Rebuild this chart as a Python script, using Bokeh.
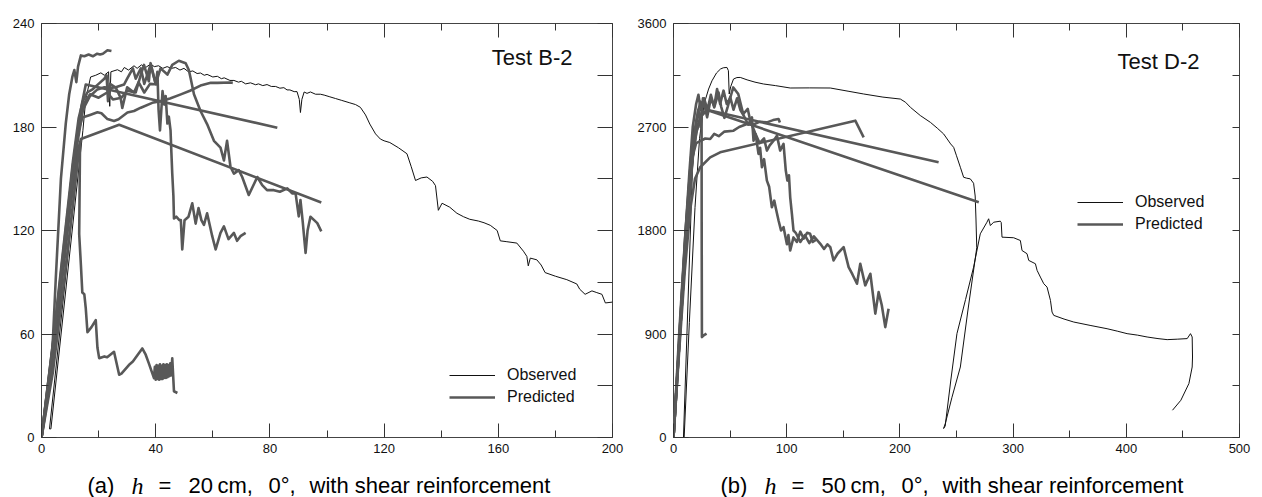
from bokeh.plotting import figure
from bokeh.models import Range1d, LinearAxis, FixedTicker, Label, Legend, LegendItem
from bokeh.layouts import row, column
from bokeh.embed import file_html
from bokeh.resources import INLINE

# ---------------- Panel (a): Test B-2 ----------------
A_X_TICKS = [0, 40, 80, 120, 160, 200]
A_X_MINOR = [20, 60, 100, 140, 180]
A_Y_TICKS = [0, 60, 120, 180, 240]
A_Y_MINOR = [30, 90, 150, 210]
A_Y_RIGHT = [0, 30, 60, 90, 120, 150, 180, 210, 240]

A_OBS_X = [0, 4, 8, 11, 13.5, 2.8, 3.3, 14.5, 15.5, 17.2, 19, 20.8, 22, 23.5, 23.9, 24.3, 26.6, 28, 29, 30.5,
           32.4, 33.5, 35, 36.5, 38.2, 39.5, 41, 42.5, 44, 45.5, 47, 48.5, 49.9, 51.5, 53, 54.5, 55.7, 57, 58,
           60, 61.6, 63, 64, 66, 67.4, 69, 70, 71.5, 73.2, 75, 76, 77.5, 79, 80.5, 82, 83.5, 84.9, 86, 87, 88.5,
           89.5, 90.3, 90.7, 91.2, 92, 93, 94.2, 96, 97.7, 99, 101, 103, 105, 108, 110, 111.7, 113.5, 115, 117,
           118.7, 120, 122, 125, 128, 129.5, 131, 133, 135, 137, 138, 139, 140.3, 143, 145.5, 147.8, 150, 153,
           155, 157.2, 159.6, 160.7, 163, 166.5, 168.8, 170, 170.5, 171.2, 173.5, 175, 176.4, 180, 184, 187.5,
           188.5, 190.4, 192.8, 194.5, 196.3, 197.5, 200]
A_OBS_Y = [0, 50, 105, 145, 172, 5, 5, 178, 196, 209, 210, 211.4, 210, 212, 192, 212, 213.2, 212, 214.5, 213,
           215.5, 214, 216, 214.5, 216.5, 215, 215.5, 214, 215, 214, 214.5, 213, 214, 212, 212.5, 211, 211.3, 210,
           210.5, 209, 209.4, 208, 208.5, 207, 207, 206, 206.5, 205, 205.6, 204.5, 205, 204, 204.6, 203.5, 203.5,
           202.5, 202.8, 201.5, 201.5, 200.5, 200.5, 196, 188.4, 196, 200.3, 199.5, 200.3, 199, 199, 198.5, 197.5,
           196.5, 195.5, 194, 193, 191.4, 187, 181.7, 176, 173, 172, 171, 168, 164.5, 157, 149, 150.5, 151, 148.5,
           146, 131.7, 135.8, 133.5, 130, 128, 126.5, 125.5, 124.5, 123, 120, 114, 113.5, 112.7, 108, 105, 99.5,
           104, 103, 100, 95.6, 93.5, 91.5, 89, 86, 83, 85, 84, 83, 78, 78.5]

A_P1_X = [0, 2, 3.8, 5, 6.8, 8.5, 9.7, 10.8, 11.5, 12.2, 12.8, 13.8, 15, 16.5, 18, 19.5, 20.5, 21.5, 23.1, 24.5]
A_P1_Y = [0, 25, 50, 92, 150, 182, 199, 209, 213, 206, 215, 221.5, 221, 222, 221, 222.5, 222, 222.5, 224.5, 224]

A_P2_X = [0, 4, 7, 10, 12.5, 13.5, 13.2, 13.8, 14.3, 15, 15.5, 16.1, 17.5, 19, 19.6, 20.2, 22, 23, 25.4, 27.2,
          28, 30.6, 32, 35.3, 36.5, 37.6, 39.4, 39.7, 40, 40.3, 40.6, 40.9, 41.2, 41.5, 41.8, 42.1, 42.4, 42.7,
          43, 43.3, 43.6, 43.9, 44.2, 44.5, 44.8, 45.1, 45.4, 45.8, 46.4, 47.6]
A_P2_Y = [0, 42, 88, 132, 165, 171, 118, 100, 84, 83, 75, 61, 64, 68, 52, 46, 47, 46.5, 49.7, 36.4,
          37, 42, 44, 51.6, 48, 43, 34.4, 41, 33.5, 42, 34, 41.5, 33.5, 42.5, 34, 41.5, 34, 42.5, 34.5, 42,
          34.5, 42.5, 35, 42, 35.5, 43, 36, 45.9, 26.8, 25.8]

A_P3_X = [0, 4, 8, 11, 13, 13.8, 27.2, 98]
A_P3_Y = [0, 38, 92, 135, 165, 173, 181.3, 136.2]

A_P4_X = [0, 5, 9, 12, 14, 15.5, 82.6]
A_P4_Y = [0, 68, 128, 170, 192, 204.6, 179.6]

A_P5_X = [0, 4, 8, 11, 13, 14.3, 17, 19.6, 21, 23.1, 25.4, 27, 30.1, 32.4, 34.8, 38.8, 41.7, 45, 48.8, 52,
          55.7, 59.3, 61.6, 66.2, 67]
A_P5_Y = [0, 45, 108, 158, 178, 185.5, 187, 188.5, 188, 184.6, 183.5, 184.5, 188.4, 189.3, 191.2, 194, 195,
          196.5, 198.9, 201, 204, 205.6, 205.6, 205.8, 205.6]

A_P6_X = [0, 5, 9, 12, 14.5, 17, 19.6, 22, 24.2, 26, 28.9, 30, 32, 33, 34.8, 36, 38.2, 40, 40.6, 41, 41.5,
          42.4, 43, 43.5, 44.1, 44.6, 45.2, 45.5, 45.8, 46.2, 46.4, 47.2, 48.3, 48.8, 49.3, 50.1, 51.5, 52.8,
          54, 55, 56, 56.9, 58, 59.8, 61, 62.7, 63.9, 65.5, 67.4, 68.5, 69.7, 71.5]
A_P6_Y = [0, 65, 125, 165, 190, 198, 201.8, 203, 202.7, 203, 204.6, 208, 214, 208, 214, 205, 216, 205, 212,
          190, 178, 200.8, 193, 198, 182, 186, 178, 165, 153, 140, 127, 128, 126, 126, 109, 126, 128, 135.8,
          124, 133, 126, 123.3, 130, 116.7, 109, 118.6, 122.4, 115, 118.6, 114, 116.7, 118.6]

A_P7_X = [0, 6, 10, 13, 15, 17, 20, 23, 25, 28, 30, 33, 34.8, 35.9, 37.6, 38.2, 40, 41.7, 44.1, 45.8, 48.1,
          50.5, 51.6, 52.2, 53.4, 55.7, 58, 60.4, 62.7, 63.9, 65, 66.2, 67.4, 69.1, 70.3, 72.6, 75.6, 77.3, 79,
          81.4, 83.5, 86.1, 87.8, 89, 90.1, 90.7, 91.5, 92.5, 93.2, 94.2, 95.5, 96.6, 98]
A_P7_Y = [0, 80, 140, 180, 194, 199, 197, 200, 196, 197, 201, 200, 210.4, 216, 206.5, 217, 205, 214, 210.4,
          216, 218.4, 217, 213, 208.5, 199, 189.3, 181.7, 172, 168, 160.6, 172, 156.8, 153, 155, 151, 140.6,
          151, 146.3, 143.4, 143.4, 142.5, 144.4, 141.5, 141.5, 128.2, 137.7, 125, 107, 120, 128, 126, 124.3,
          119.5]

A_P8_X = [0, 4, 8, 11, 13, 14.5, 16, 18, 20, 22, 22.8, 23.3, 24, 26, 27.7, 28.3, 30, 32.4, 34, 36, 38, 41]
A_P8_Y = [0, 55, 115, 160, 185, 195, 200, 202, 205, 208, 210, 195, 205, 202.8, 197, 191, 203, 200, 206, 200,
          205, 204.6]

# ---------------- Panel (b): Test D-2 ----------------
B_X_TICKS = [0, 100, 200, 300, 400, 500]
B_X_MINOR = [50, 150, 250, 350, 450]
B_Y_TICKS = [0, 900, 1800, 2700, 3600]
B_Y_MINOR = [450, 1350, 2250, 3150]
B_Y_RIGHT = [0, 450, 900, 1350, 1800, 2250, 2700, 3150, 3600]

B_OBS_X = [0, 5, 10, 15, 18, 8.8, 9.4, 14, 19, 23, 27, 31, 34, 38, 41.5, 44, 47.2, 48.5, 49.2, 50.5, 53, 56,
           59, 65, 72, 79.5, 90, 103.1, 120, 138.5, 155, 168, 185, 200.4, 205, 209.3, 218, 227, 233, 238.6,
           244.8, 247.5, 250, 253.4, 256.3, 259, 262.2, 265.1, 266.5, 267.2, 267.9, 260, 253.4, 246, 240.1,
           238.6, 240, 245, 250.4, 258, 265.1, 271, 276.9, 278.4, 279.9, 282.8, 288.7, 289.5, 290.2, 300.5,
           306.4, 307.9, 312.3, 313.8, 319.7, 321.2, 324.1, 327.1, 330, 333, 334.4, 335.9, 345, 353.6, 368,
           383, 392, 400.7, 410, 418.4, 428, 436.1, 445, 453.8, 456.7, 458.2, 458.5, 458.2, 455.3, 448.2, 440.8]
B_OBS_Y = [0, 950, 1800, 2450, 2700, 0, 0, 1000, 2000, 2600, 2900, 3030, 3102, 3170, 3204, 3215, 3218, 3190,
           2987, 3050, 3117, 3130, 3131, 3110, 3090, 3074, 3060, 3039, 3040, 3039, 3010, 2987, 2960, 2943, 2915,
           2871, 2800, 2740, 2690, 2640, 2553, 2523, 2450, 2350, 2263, 2255, 2249, 2211, 2100, 1900, 1650, 1100,
           613, 350, 121, 78, 100, 500, 903, 1200, 1481, 1771, 1872, 1902, 1843, 1872, 1881, 1870, 1742, 1737,
           1713, 1626, 1598, 1540, 1511, 1453, 1395, 1337, 1308, 1192, 1091, 1062, 1030, 1004, 975, 946, 925,
           903, 890, 874, 860, 851, 855, 860, 903, 874, 700, 613, 469, 324, 237]

B_P1_X = [0, 5, 10, 15, 19, 22, 24, 24.8, 24.9, 25.1, 27, 29.2]
B_P1_Y = [0, 800, 1550, 2200, 2650, 2850, 2920, 2871, 1800, 873, 890, 903]

B_P2_X = [0, 6, 12, 17, 21, 25, 31.3, 234.2]
B_P2_Y = [0, 950, 1850, 2450, 2700, 2820, 2845, 2393]

B_P3_X = [0, 5, 10, 15, 20, 25, 29, 32.3, 269.7]
B_P3_Y = [0, 850, 1650, 2300, 2650, 2800, 2840, 2840, 2046]

B_P4_X = [0, 5, 10, 15, 19, 23.6, 32.4, 41.2, 160.6, 168]
B_P4_Y = [0, 750, 1450, 2000, 2250, 2350, 2436, 2480, 2755, 2610]

B_P5_X = [0, 5, 10, 14, 17, 20, 24, 28, 32.4, 36, 40, 45, 53, 58, 64.9, 70, 76, 82.5, 88, 92.8, 94]
B_P5_Y = [0, 800, 1550, 2150, 2450, 2560, 2580, 2600, 2596, 2640, 2620, 2660, 2668, 2700, 2726, 2720, 2745,
          2740, 2760, 2770, 2740]

B_P6_X = [0, 5, 10, 14, 17, 20, 22, 24, 27, 30, 33, 36, 39.8, 42, 45, 48, 50.1, 53, 56.2, 59, 62, 66, 69.3,
          70.7, 72.5, 75.1, 76.5, 78.1, 80, 82.5, 84.5, 86.9, 89, 90.5, 92.8, 95, 97.2, 100.2, 101.5, 103.1,
          106, 109, 112, 115, 118, 120.7, 123, 126]
B_P6_Y = [0, 900, 1700, 2300, 2700, 2900, 2980, 2850, 2950, 2850, 2980, 2870, 3000, 2880, 2780, 2880, 2960,
          2850, 2950, 2850, 2800, 2720, 2784, 2581, 2640, 2466, 2520, 2350, 2420, 2234, 2180, 2002, 2060, 1990,
          1887, 1800, 1829, 1680, 1760, 1626, 1740, 1700, 1790, 1730, 1780, 1771, 1700, 1720]

B_P7_X = [0, 5, 10, 14, 17, 20, 22, 24, 26, 29.7, 33, 36, 38.5, 41.2, 44.2, 47, 50, 52.8, 57.2, 61.6, 65.6,
          67.8, 72, 76, 80, 82.5, 85, 88.4, 91.4, 94.2, 97.2, 99.2, 100.6, 102, 103.1, 104.6, 106, 108, 112,
          116, 120, 124, 129.7, 133, 136, 138.5, 141.4, 145, 150.3, 154.7, 158, 162.1, 165, 169.4, 173.9,
          178.3, 181.2, 184, 187.1, 190]
B_P7_Y = [0, 800, 1600, 2200, 2550, 2750, 2850, 2700, 2950, 2784, 2950, 2880, 3030, 2900, 3016, 2900, 2950,
          3044, 2987, 2813, 2857, 2755, 2650, 2560, 2600, 2495, 2540, 2581, 2625, 2495, 2553, 2321, 2234, 2280,
          2089, 1945, 1800, 1780, 1700, 1760, 1690, 1750, 1684, 1640, 1680, 1655, 1540, 1600, 1655, 1481, 1420,
          1337, 1511, 1323, 1424, 1077, 1264, 1150, 960, 1120]

CAPTION_A = ["(a)", "h", "=", "20", "cm,", "0°,", "with shear reinforcement"]
CAPTION_B = ["(b)", "h", "=", "50", "cm,", "0°,", "with shear reinforcement"]

OBS_COLOR = "#111111"
PRED_COLOR = "#585858"
FONT = "Liberation Sans"


def style_axis(ax, ticks, minor, major_in, minor_in, labels, standoff=6):
    ax.ticker = FixedTicker(ticks=ticks, minor_ticks=minor)
    ax.axis_line_color = None
    ax.major_tick_in = major_in
    ax.major_tick_out = 0
    ax.minor_tick_in = minor_in
    ax.minor_tick_out = 0
    ax.major_tick_line_color = "#333333"
    ax.minor_tick_line_color = "#333333"
    ax.major_tick_line_width = 1
    ax.minor_tick_line_width = 1
    if labels:
        ax.major_label_text_font = FONT
        ax.major_label_text_font_size = "13px"
        ax.major_label_text_color = "#111111"
        ax.major_label_standoff = standoff
    else:
        ax.major_label_text_font_size = "0px"
        ax.major_label_standoff = 0
        ax.major_label_text_color = None


def make_panel(xmax, ymax, xt, xm, yt, ym, yr, right_len, borders, obs, preds,
               test_text, test_pos, legend_pos):
    bl, br, bt, bb = borders
    p = figure(width=631, height=460, x_range=Range1d(0, xmax), y_range=Range1d(0, ymax),
               output_backend="svg", toolbar_location=None,
               min_border_left=bl, min_border_right=br, min_border_top=bt, min_border_bottom=bb,
               x_axis_location=None, y_axis_location=None)
    p.xgrid.visible = False
    p.ygrid.visible = False
    p.outline_line_color = "#444444"
    p.outline_line_width = 1
    p.background_fill_color = "white"
    p.border_fill_color = "white"

    bottom = LinearAxis()
    style_axis(bottom, xt, xm, 14, 7, True, 6)
    p.add_layout(bottom, "below")
    left = LinearAxis()
    style_axis(left, yt, ym, 15, 7, True, 7)
    p.add_layout(left, "left")
    top = LinearAxis()
    style_axis(top, xt, xm, 14, 7, False)
    p.add_layout(top, "above")
    right = LinearAxis()
    style_axis(right, yr, [], right_len, 0, False)
    p.add_layout(right, "right")

    r_obs = p.line(obs[0], obs[1], line_color=OBS_COLOR, line_width=1.0)
    r_pred = None
    for xs, ys in preds:
        r = p.line(xs, ys, line_color=PRED_COLOR, line_width=2.6, line_join="round")
        if r_pred is None:
            r_pred = r

    legend = Legend(items=[LegendItem(label="Observed", renderers=[r_obs]),
                           LegendItem(label="Predicted", renderers=[r_pred])],
                    location=legend_pos, orientation="vertical",
                    glyph_width=46, glyph_height=22, label_height=22, label_standoff=12,
                    spacing=0, padding=0, margin=0,
                    border_line_color=None, background_fill_alpha=0,
                    label_text_font=FONT, label_text_font_size="16px",
                    label_text_color="#111111")
    p.add_layout(legend, "center")

    p.add_layout(Label(x=test_pos[0], y=test_pos[1], x_units="screen", y_units="screen",
                       text=test_text, text_align="right", text_baseline="middle",
                       text_font=FONT, text_font_size="22px", text_color="#111111"))
    return p


def make_caption(parts, x0):
    c = figure(width=631, height=37, x_range=Range1d(0, 1), y_range=Range1d(0, 1),
               output_backend="svg", toolbar_location=None, min_border=0,
               x_axis_location=None, y_axis_location=None)
    c.xgrid.visible = False
    c.ygrid.visible = False
    c.outline_line_color = None
    c.background_fill_color = "white"
    c.border_fill_color = "white"
    offsets = [0, 44, 71, 101, 130, 181, 222]
    for i, (txt, dx) in enumerate(zip(parts, offsets)):
        italic = (i == 1)
        c.add_layout(Label(x=x0 + dx, y=12, x_units="screen", y_units="screen",
                           text=txt, text_align="left", text_baseline="alphabetic",
                           text_font="Liberation Serif" if italic else FONT,
                           text_font_style="italic" if italic else "normal",
                           text_font_size="24px" if italic else "22px",
                           text_color="#000000"))
    return c


pa = make_panel(200, 240, A_X_TICKS, A_X_MINOR, A_Y_TICKS, A_Y_MINOR, A_Y_RIGHT, 15,
                (41, 19, 18, 23), (A_OBS_X, A_OBS_Y),
                [(A_P1_X, A_P1_Y), (A_P2_X, A_P2_Y), (A_P3_X, A_P3_Y), (A_P4_X, A_P4_Y),
                 (A_P5_X, A_P5_Y), (A_P6_X, A_P6_Y), (A_P7_X, A_P7_Y), (A_P8_X, A_P8_Y)],
                "Test B-2", (531, 380.5), (408, 29))

pb = make_panel(500, 3600, B_X_TICKS, B_X_MINOR, B_Y_TICKS, B_Y_MINOR, B_Y_RIGHT, 7,
                (42, 23, 23, 23), (B_OBS_X, B_OBS_Y),
                [(B_P1_X, B_P1_Y), (B_P2_X, B_P2_Y), (B_P3_X, B_P3_Y), (B_P4_X, B_P4_Y),
                 (B_P5_X, B_P5_Y), (B_P6_X, B_P6_Y), (B_P7_X, B_P7_Y)],
                "Test D-2", (526, 376), (404, 202))

ca = make_caption(CAPTION_A, 87)
cb = make_caption(CAPTION_B, 89)

layout = column(row(pa, pb, spacing=0), row(ca, cb, spacing=0), spacing=0)
open("out.html", "w").write(file_html(layout, INLINE))
